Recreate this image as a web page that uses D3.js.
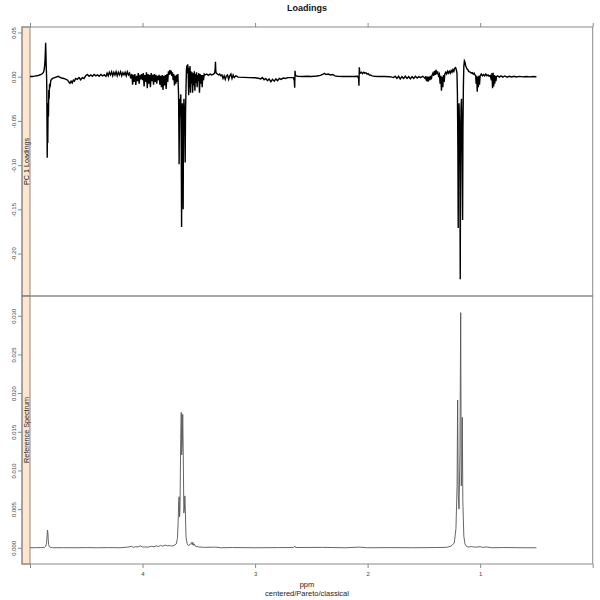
<!DOCTYPE html>
<html>
<head>
<meta charset="utf-8">
<script src="https://cdn.jsdelivr.net/npm/d3@7"></script>
<style>
  html, body { margin: 0; padding: 0; background: #fff; }
  svg { display: block; font-family: "Liberation Sans", Arial, sans-serif; }
</style>
</head>
<body>
<svg id="chart" width="600" height="600"></svg>
<script>
// ---------------- DATA ----------------
const chartTitle = "Loadings";
const xLabel = "ppm";
const subLabel = "centered/Pareto/classical";
const stripTop = "PC 1 Loadings";
const stripBottom = "Reference Spectrum";

const xTicks = [5, 4, 3, 2, 1, 0];
const xTickLabels = ["", "4", "3", "2", "1", ""];
const yTicksTop = [0.05, 0.00, -0.05, -0.10, -0.15, -0.20];
const yTickLabelsTop = ["0.05", "0.00", "-0.05", "-0.10", "-0.15", "-0.20"];
const yTicksBottom = [0.000, 0.005, 0.010, 0.015, 0.020, 0.025, 0.030];
const yTickLabelsBottom = ["0.000", "0.005", "0.010", "0.015", "0.020", "0.025", "0.030"];

// PC 1 loadings: [ppm, loading]
const loadings = [
  [5.00,0.0002],[4.98,0.0003],[4.96,0.0006],[4.94,0.0010],[4.92,0.0016],[4.90,0.0025],[4.89,0.0035],
  [4.88,0.0050],[4.875,0.0075],[4.87,0.012],[4.866,0.020],[4.863,0.030],[4.861,0.0385],[4.859,0.030],
  [4.856,0.012],[4.853,0.002],[4.851,-0.010],[4.849,-0.050],[4.847,-0.0916],[4.845,-0.060],[4.842,-0.075],
  [4.839,-0.030],[4.836,-0.045],[4.833,-0.015],[4.830,-0.025],[4.826,-0.008],[4.822,-0.012],[4.815,-0.004],
  [4.80,-0.002],[4.78,-0.001],[4.75,0.0005],[4.72,-0.0015],[4.70,-0.002],[4.68,-0.003],[4.665,-0.004],
  [4.655,-0.006],[4.645,-0.0075],[4.635,-0.005],[4.625,-0.007],[4.615,-0.004],[4.605,-0.005],[4.595,-0.002],
  [4.58,-0.003],[4.565,-0.001],[4.55,-0.0035],[4.535,-0.001],[4.52,-0.002],[4.505,0.001],[4.49,0.0025],
  [4.475,0.0005],[4.46,0.002],[4.445,0.0005],[4.43,0.0025],[4.415,0.001],[4.40,0.002],[4.385,0.0005],
  [4.37,0.0025],[4.355,0.001],[4.34,0.002],[4.325,0.0005],
  [4.315,0.004],[4.305,0.001],[4.295,0.005],[4.285,0.002],[4.275,0.0055],[4.265,0.001],[4.255,0.005],
  [4.245,0.002],[4.235,0.0057],[4.225,0.001],[4.215,0.005],[4.205,0.002],[4.195,0.0055],[4.185,0.001],
  [4.175,0.0045],[4.165,0.002],[4.155,0.005],[4.145,0.001],[4.135,0.0055],[4.125,0.002],[4.115,0.004],
  [4.105,-0.002],[4.095,0.003],[4.088,-0.009],[4.082,0.002],[4.075,-0.006],[4.068,0.003],[4.06,-0.0094],
  [4.052,0.001],[4.045,-0.005],[4.038,0.004],[4.03,-0.008],[4.022,0.002],[4.015,-0.003],[4.008,0.003],
  [4.0,-0.004],
  [3.993,0.004],[3.986,-0.011],[3.979,0.002],[3.972,-0.006],[3.965,0.005],[3.958,-0.013],[3.951,0.003],
  [3.944,-0.008],[3.937,0.002],[3.93,-0.012],[3.923,0.004],[3.916,-0.005],[3.909,0.002],[3.902,-0.009],
  [3.895,0.003],[3.888,-0.006],[3.881,0.002],[3.874,-0.008],[3.867,0.001],[3.86,-0.004],[3.853,0.002],
  [3.846,-0.009],[3.839,0.001],[3.832,-0.012],[3.825,0.002],[3.818,-0.015],[3.811,0.001],[3.804,-0.010],
  [3.797,0.002],[3.79,-0.014],[3.783,0.003],[3.776,-0.006],
  [3.77,0.006],[3.764,0.002],[3.758,0.0076],[3.752,0.003],[3.746,0.007],[3.74,0.001],[3.734,0.005],
  [3.728,-0.004],[3.722,0.003],[3.716,-0.010],[3.71,0.001],[3.704,-0.008],[3.698,0.002],[3.692,-0.006],
  [3.686,0.003],
  [3.68,-0.020],[3.677,-0.060],[3.675,-0.099],[3.672,-0.040],[3.668,-0.025],[3.664,-0.045],[3.66,-0.020],
  [3.656,-0.080],[3.653,-0.170],[3.65,-0.060],[3.646,-0.030],[3.642,-0.080],[3.639,-0.150],[3.636,-0.050],
  [3.632,-0.025],[3.628,-0.040],[3.624,-0.060],[3.621,-0.097],[3.618,-0.040],[3.614,-0.015],[3.61,0.008],
  [3.606,0.013],[3.602,0.004],
  [3.598,0.014],[3.594,0.003],[3.59,-0.021],[3.586,0.010],[3.582,-0.012],[3.578,0.012],[3.574,-0.018],
  [3.57,0.006],[3.565,-0.008],[3.56,0.005],[3.555,-0.018],[3.55,0.004],[3.545,-0.010],[3.54,0.006],
  [3.535,-0.016],[3.53,0.003],[3.525,-0.007],[3.52,0.005],[3.515,-0.012],[3.51,0.002],[3.505,-0.005],
  [3.5,0.004],[3.494,-0.018],[3.488,0.003],[3.482,-0.008],[3.476,0.002],[3.47,-0.012],[3.464,0.002],
  [3.458,-0.004],[3.452,0.003],
  [3.445,0.002],[3.43,0.003],[3.415,0.0015],[3.40,0.003],[3.385,0.002],[3.37,0.003],[3.36,0.004],
  [3.355,0.008],[3.352,0.017],[3.349,0.007],[3.345,0.004],[3.335,0.003],[3.325,0.002],[3.315,0.003],
  [3.305,0.001],[3.295,0.002],[3.285,-0.002],[3.275,0.001],[3.265,-0.003],[3.255,0.001],[3.245,0.002],
  [3.235,-0.003],[3.225,0.001],[3.215,0.003],[3.205,-0.002],[3.195,0.002],[3.185,-0.001],[3.17,0.001],
  [3.15,-0.0005],[3.10,-0.0008],[3.05,-0.001],[3.00,-0.0012],[2.97,-0.0018],[2.95,-0.0025],[2.935,-0.001],
  [2.92,-0.0035],[2.905,-0.002],[2.89,-0.0045],[2.875,-0.0025],[2.86,-0.0057],[2.845,-0.003],[2.83,-0.005],
  [2.815,-0.0025],[2.80,-0.0045],[2.785,-0.002],[2.77,-0.003],[2.75,-0.0015],[2.73,-0.002],[2.71,-0.001],
  [2.69,-0.001],[2.66,-0.001],[2.652,-0.004],[2.648,-0.0124],[2.645,0.0068],[2.642,0.002],[2.635,0.001],
  [2.62,0.0005],[2.58,0.0003],[2.54,0.0005],[2.50,0.0003],[2.45,0.0008],[2.42,0.0015],[2.40,0.0025],
  [2.385,0.0038],[2.37,0.0025],[2.35,0.003],[2.33,0.002],[2.31,0.0025],[2.29,0.001],[2.27,0.0005],
  [2.22,0.0002],[2.17,0.0003],[2.12,0.0002],
  [2.09,0.0005],[2.08,-0.002],[2.077,-0.0102],[2.074,0.0106],[2.071,0.006],[2.065,0.004],[2.055,0.005],
  [2.045,0.0035],[2.035,0.005],[2.025,0.004],[2.015,0.0045],[2.005,0.003],[1.995,0.0035],[1.985,0.002],
  [1.975,0.002],[1.96,0.001],[1.94,0.0005],[1.90,0.0003],[1.85,0.0002],
  [1.80,0.0],[1.77,-0.001],[1.755,0.0005],[1.74,-0.002],[1.725,0.0005],[1.71,-0.0025],[1.695,0.0],
  [1.68,-0.002],[1.665,0.0005],[1.65,-0.002],[1.635,0.0],[1.62,-0.0025],[1.605,0.0],[1.59,-0.002],
  [1.575,0.0005],[1.56,-0.0015],[1.545,0.0],[1.53,-0.001],[1.51,0.0005],
  [1.50,-0.0005],[1.49,-0.002],[1.483,0.0005],[1.476,-0.005],[1.469,0.0],[1.462,-0.0057],[1.455,0.0],
  [1.448,-0.004],[1.441,0.001],[1.434,-0.003],[1.427,0.002],[1.42,0.004],[1.413,0.001],[1.406,0.0065],
  [1.399,0.002],[1.392,0.0076],[1.385,0.003],[1.378,0.006],[1.37,0.001],[1.362,0.003],[1.356,-0.008],
  [1.35,0.001],[1.344,-0.0158],[1.338,0.0],[1.332,-0.012],[1.326,0.002],[1.32,-0.006],[1.314,0.003],
  [1.306,0.005],[1.298,0.003],[1.29,0.006],[1.282,0.004],[1.274,0.006],[1.266,0.004],[1.258,0.007],
  [1.25,0.005],[1.242,0.008],[1.234,0.006],[1.226,0.0095],[1.218,0.0102],[1.212,0.008],[1.206,0.004],
  [1.202,-0.020],[1.198,-0.080],[1.195,-0.171],[1.192,-0.060],[1.188,-0.030],[1.184,-0.050],[1.18,-0.100],
  [1.177,-0.229],[1.174,-0.090],[1.17,-0.035],[1.166,-0.025],[1.162,-0.060],[1.159,-0.120],[1.156,-0.162],
  [1.153,-0.060],[1.149,-0.010],
  [1.145,0.012],[1.14,0.018],[1.136,0.017],[1.13,0.013],[1.124,0.011],[1.118,0.009],[1.11,0.008],
  [1.102,0.006],[1.094,0.0055],[1.086,0.005],[1.078,0.004],[1.07,0.0045],[1.062,0.003],[1.054,0.004],
  [1.046,0.002],[1.04,0.001],
  [1.036,-0.008],[1.031,0.001],[1.026,-0.017],[1.021,0.0],[1.016,-0.012],[1.011,0.001],[1.006,-0.009],
  [1.0,0.001],[0.99,0.003],[0.98,0.001],[0.97,0.0025],[0.96,0.001],[0.95,0.003],[0.94,0.001],[0.93,0.002],
  [0.92,0.0005],[0.91,0.0015],
  [0.90,-0.004],[0.895,0.004],[0.89,-0.013],[0.885,0.0045],[0.88,-0.011],[0.875,0.002],[0.87,-0.008],
  [0.865,0.001],[0.86,-0.005],[0.855,0.0],
  [0.845,0.001],[0.83,-0.0005],[0.815,0.001],[0.80,-0.0005],[0.78,0.0008],[0.76,-0.0005],[0.74,0.0005],
  [0.72,-0.0003],[0.70,0.0005],[0.68,-0.0003],[0.65,0.0004],[0.62,-0.0002],[0.59,0.0003],[0.56,-0.0002],
  [0.53,0.0002],[0.50,0.0]
];

// Reference spectrum: [ppm, intensity]
const reference = [
  [5.00,0.0],[4.95,0.00001],[4.90,0.00002],[4.87,0.00005],[4.86,0.0002],[4.853,0.0006],[4.849,0.0014],
  [4.846,0.0021],[4.844,0.00229],[4.841,0.0019],[4.838,0.0011],[4.834,0.0004],[4.828,0.00012],
  [4.815,0.00004],[4.80,0.0],[4.70,0.00001],[4.60,0.0],[4.50,0.00002],[4.40,0.0],[4.30,0.00002],
  [4.20,0.0],[4.12,0.0001],[4.10,0.0002],[4.08,0.00005],[4.06,0.00015],[4.04,0.0001],[4.02,0.00025],
  [4.0,0.0001],[3.98,0.0001],[3.95,0.00008],[3.92,0.0002],[3.90,0.00012],[3.88,0.00025],[3.86,0.00015],
  [3.84,0.0003],[3.82,0.0002],[3.80,0.00035],[3.78,0.00025],[3.76,0.0003],[3.74,0.0002],[3.72,0.0003],
  [3.70,0.0005],[3.69,0.0012],[3.683,0.0035],[3.679,0.0060],[3.675,0.0066],[3.671,0.0040],[3.667,0.0050],
  [3.661,0.0140],[3.656,0.0175],[3.652,0.0120],[3.6465,0.0135],[3.643,0.01725],[3.638,0.0120],
  [3.633,0.0045],[3.628,0.0050],[3.624,0.0067],[3.62,0.0050],[3.614,0.0015],[3.605,0.0006],
  [3.595,0.0003],[3.59,0.0003],[3.57,0.0005],[3.563,0.0007],[3.558,0.0004],[3.553,0.0007],
  [3.548,0.0003],[3.54,0.0005],[3.53,0.0002],[3.50,0.0001],[3.45,0.00005],[3.35,0.00008],[3.3,0.0],
  [3.2,0.00003],[3.0,0.0],[2.8,0.00002],[2.66,0.00003],[2.646,0.0002],[2.64,0.00003],[2.4,0.00005],
  [2.2,0.0],[2.075,0.00008],[2.0,0.0],[1.8,0.00002],[1.6,0.0],[1.4,0.00003],[1.3,0.00005],[1.26,0.0002],
  [1.23,0.0006],[1.215,0.0025],[1.205,0.0080],[1.20,0.0191],[1.195,0.0070],[1.188,0.0050],[1.18,0.0120],
  [1.173,0.0304],[1.168,0.0080],[1.162,0.0100],[1.159,0.01686],[1.154,0.0060],[1.145,0.0015],
  [1.135,0.0005],[1.12,0.00015],[1.10,0.0001],[1.08,0.00015],[1.06,0.0001],[1.03,0.00008],[1.0,0.00015],
  [0.98,0.00005],[0.94,0.0001],[0.90,0.0],[0.80,0.00003],[0.60,0.0],[0.50,0.0]
];

// ---------------- LAYOUT ----------------
const svg = d3.select("#chart");
const left = 22, stripW = 8, right = 592.7;
const topY = 27, midY = 296, botY = 564;
const frameCol = "#8a8a8a";
const textCol = "#444";

const x = d3.scaleLinear().domain([5, 0]).range([left + stripW, right]);
const yTop = d3.scaleLinear().domain([-0.2480, 0.0562]).range([midY, topY]);
const yBot = d3.scaleLinear().domain([-0.0021, 0.03255]).range([botY, midY]);

// title
svg.append("text").attr("x", 307).attr("y", 11).attr("text-anchor", "middle")
  .attr("font-size", 9).attr("font-weight", "bold").attr("fill", "#111").text(chartTitle);

// clip paths
const defs = svg.append("defs");
defs.append("clipPath").attr("id", "clipTop").append("rect")
  .attr("x", left + stripW).attr("y", topY).attr("width", right - left - stripW).attr("height", midY - topY);
defs.append("clipPath").attr("id", "clipBot").append("rect")
  .attr("x", left + stripW).attr("y", midY).attr("width", right - left - stripW).attr("height", botY - midY);

// strips
function strip(y0, y1, label) {
  svg.append("rect").attr("x", left).attr("y", y0).attr("width", stripW).attr("height", y1 - y0)
    .attr("fill", "#FFE5CC").attr("stroke", frameCol).attr("stroke-width", 1);
  const cy = (y0 + y1) / 2;
  svg.append("text").attr("transform", `translate(${left + stripW / 2 + 2.6},${cy}) rotate(-90)`)
    .attr("text-anchor", "middle").attr("font-size", 7.2).attr("fill", "#222").text(label);
}
strip(topY, midY, stripTop);
strip(midY, botY, stripBottom);

// lines
const lineTop = d3.line().x(d => x(d[0])).y(d => yTop(d[1]));
const lineBot = d3.line().x(d => x(d[0])).y(d => yBot(d[1]));

svg.append("path").datum(loadings).attr("clip-path", "url(#clipTop)")
  .attr("d", lineTop).attr("fill", "none").attr("stroke", "#000").attr("stroke-width", 1.4)
  .attr("stroke-linejoin", "miter");
svg.append("path").datum(reference).attr("clip-path", "url(#clipBot)")
  .attr("d", lineBot).attr("fill", "none").attr("stroke", "#555").attr("stroke-width", 0.9)
  .attr("stroke-linejoin", "round");

// panel frames
svg.append("rect").attr("x", left).attr("y", topY).attr("width", right - left).attr("height", midY - topY)
  .attr("fill", "none").attr("stroke", frameCol);
svg.append("rect").attr("x", left).attr("y", midY).attr("width", right - left).attr("height", botY - midY)
  .attr("fill", "none").attr("stroke", frameCol);

// axes
function styleAxis(g) {
  g.select(".domain").remove();
  g.selectAll(".tick line").attr("stroke", frameCol);
  g.selectAll(".tick text").attr("fill", textCol).attr("font-size", 6)
    .attr("font-family", "Liberation Sans, Arial, sans-serif");
}

const xAxisBottom = d3.axisBottom(x).tickValues(xTicks).tickSize(4).tickPadding(4)
  .tickFormat((d, i) => xTickLabels[i]);
svg.append("g").attr("transform", `translate(0,${botY})`).call(xAxisBottom).call(styleAxis);

const xAxisTop = d3.axisTop(x).tickValues(xTicks).tickSize(4).tickFormat("");
svg.append("g").attr("transform", `translate(0,${topY})`).call(xAxisTop).call(styleAxis);

function rotateY(g) {
  g.selectAll(".tick text").attr("transform", "rotate(-90)")
    .attr("x", 0).attr("y", -6.5).attr("dy", 0).attr("text-anchor", "middle");
}

const yAxisTop = d3.axisLeft(yTop).tickValues(yTicksTop).tickSize(4)
  .tickFormat((d, i) => yTickLabelsTop[i]);
svg.append("g").attr("transform", `translate(${left},0)`).call(yAxisTop).call(styleAxis).call(rotateY);

const yAxisBot = d3.axisLeft(yBot).tickValues(yTicksBottom).tickSize(4)
  .tickFormat((d, i) => yTickLabelsBottom[i]);
svg.append("g").attr("transform", `translate(${left},0)`).call(yAxisBot).call(styleAxis).call(rotateY);

// x labels
svg.append("text").attr("x", 307).attr("y", 587).attr("text-anchor", "middle")
  .attr("font-size", 7.5).attr("fill", "#222").text(xLabel);
svg.append("text").attr("x", 307).attr("y", 595.5).attr("text-anchor", "middle")
  .attr("font-size", 7.5).attr("fill", "#222").text(subLabel);
</script>
</body>
</html>
